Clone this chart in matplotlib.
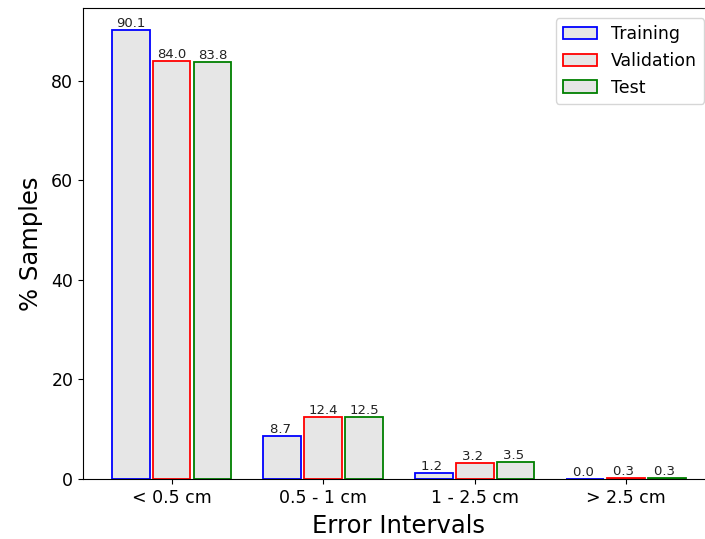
import matplotlib
matplotlib.use("Agg")
import matplotlib.pyplot as plt
import numpy as np

# data
intervals = ["< 0.5 cm", "0.5 - 1 cm", "1 - 2.5 cm", "> 2.5 cm"]
training = [90.1, 8.7, 1.2, 0.0]
validation = [84.0, 12.4, 3.2, 0.3]
test = [83.8, 12.5, 3.5, 0.3]
series_names = ["Training", "Validation", "Test"]
edge_colors = ["blue", "red", "green"]

fig = plt.figure(figsize=(7.05, 5.39), dpi=100)
ax = fig.add_axes([0.1177, 0.1113, 0.896, 0.874])

x = np.arange(len(intervals))
width = 0.25
offsets = [-0.27, 0.0, 0.27]

for vals, name, ec, off in zip([training, validation, test], series_names, edge_colors, offsets):
    bars = ax.bar(x + off, vals, width, label=name, facecolor="#e6e6e6",
                  edgecolor=ec, linewidth=1.3)
    for b, v in zip(bars, vals):
        ax.text(b.get_x() + b.get_width() / 2, b.get_height(), "{:<4.1f}".format(v),
                ha="center", va="bottom", fontsize=9.5, color="#222222")

ax.set_xticks(x)
ax.set_xticklabels(intervals, fontsize=12.5)
ax.tick_params(axis="y", labelsize=12.5)
ax.set_xlabel("Error Intervals", fontsize=17.5, labelpad=5)
ax.set_ylabel("% Samples", fontsize=17.5, labelpad=6)
ax.legend(loc="upper right", fontsize=12.5, borderaxespad=0.6)

plt.savefig("out.png", dpi=100)
